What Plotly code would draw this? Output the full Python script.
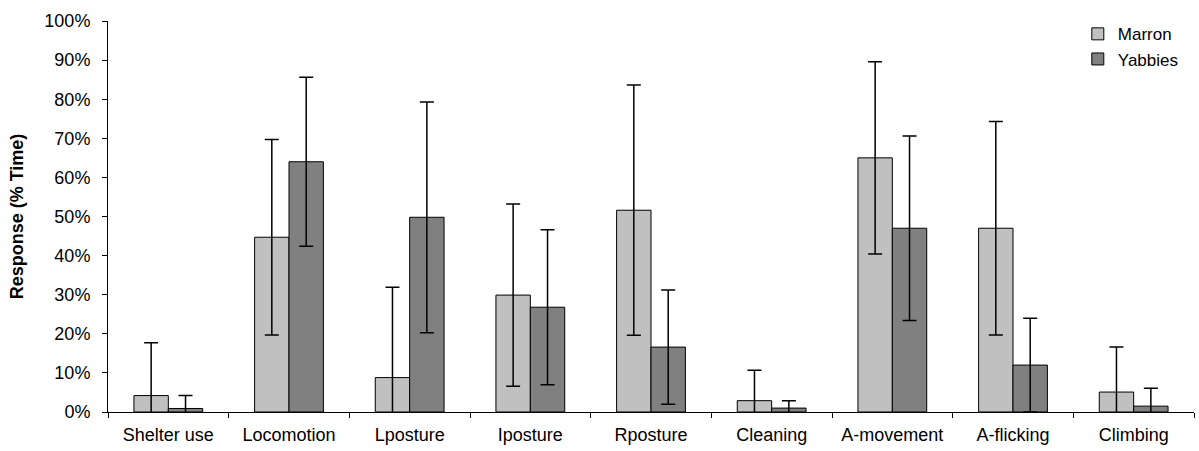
import plotly.graph_objects as go

categories = ["Shelter use", "Locomotion", "Lposture", "Iposture", "Rposture",
              "Cleaning", "A-movement", "A-flicking", "Climbing"]
marron = [0.042, 0.447, 0.088, 0.299, 0.516, 0.029, 0.650, 0.470, 0.051]
marron_err = [0.135, 0.250, 0.231, 0.233, 0.320, 0.078, 0.246, 0.273, 0.115]
yabbies = [0.009, 0.640, 0.498, 0.268, 0.166, 0.010, 0.470, 0.120, 0.015]
yabbies_err = [0.033, 0.216, 0.295, 0.198, 0.146, 0.019, 0.236, 0.120, 0.046]
y_ticks = [i / 10 for i in range(11)]

font_family = "Arial, Liberation Sans, sans-serif"
fs = 18

fig = go.Figure()
fig.add_trace(go.Bar(
    x=categories, y=marron, name="Marron", legendgroup="m",
    marker=dict(color="#C0C0C0", line=dict(color="black", width=1)),
    error_y=dict(type="data", array=marron_err, visible=True,
                 color="black", thickness=1.5, width=7),
))
fig.add_trace(go.Bar(
    x=categories, y=yabbies, name="Yabbies", legendgroup="y",
    marker=dict(color="#808080", line=dict(color="black", width=1)),
    error_y=dict(type="data", array=yabbies_err, visible=True,
                 color="black", thickness=1.5, width=7),
))

fig.update_layout(
    width=1199, height=451,
    margin=dict(l=108, r=5, t=21, b=39),
    paper_bgcolor="white", plot_bgcolor="white",
    barmode="group", bargap=0.43, bargroupgap=0,
    font=dict(family=font_family, size=fs, color="black"),
    legend=dict(x=0.893, y=1.012, xanchor="left", yanchor="top",
                bgcolor="rgba(0,0,0,0)", font=dict(size=17),
                tracegroupgap=0, traceorder="normal", itemwidth=30),
    showlegend=True,
)
fig.update_xaxes(
    type="category", showline=True, linecolor="black", linewidth=1,
    ticks="outside", tickson="boundaries", ticklen=5, tickcolor="black",
    showgrid=False, tickfont=dict(size=fs), ticklabelstandoff=6,
)
fig.update_yaxes(
    range=[0, 1], tickvals=y_ticks, tickformat=".0%",
    showline=True, linecolor="black", linewidth=1,
    ticks="outside", ticklen=5, tickcolor="black",
    showgrid=False, zeroline=False, tickfont=dict(size=fs), ticklabelstandoff=8,
    title=dict(text="<b>Response (% Time)</b>", font=dict(size=fs), standoff=16),
)

fig.write_html("out.html")
